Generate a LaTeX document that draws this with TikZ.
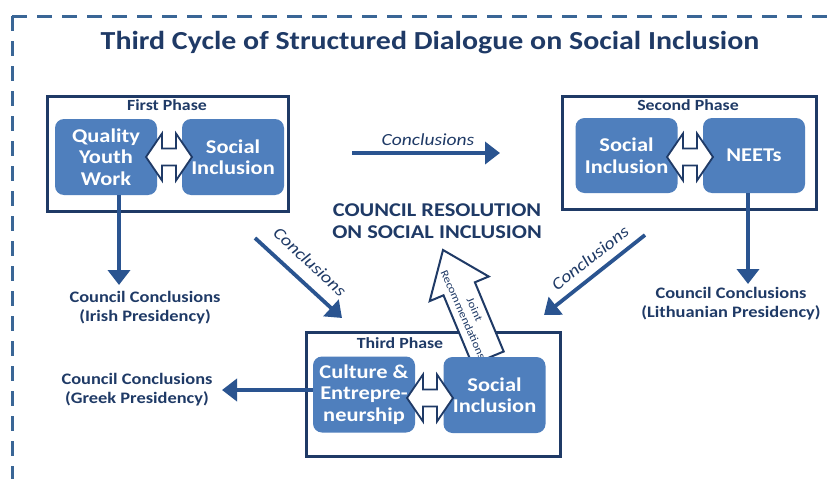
\documentclass[tikz,border=0pt]{standalone}
\usepackage{fontspec}
\setmainfont{Carlito}[FakeStretch=1.15]
\usetikzlibrary{arrows.meta}
\definecolor{navy}{HTML}{1F3A66}
\definecolor{lineblue}{HTML}{2A5490}
\definecolor{boxfill}{HTML}{4F7FBD}
\definecolor{dashblue}{HTML}{3A6696}
\begin{document}
\begin{tikzpicture}[x=1pt,y=-1pt,
 phase/.style={draw=navy, line width=2.5pt, fill=white, inner sep=0pt, anchor=north west},
 topic/.style={fill=boxfill, rounded corners=9pt, text=white, font=\bfseries\fontsize{19.5}{21.5}\selectfont, align=center, minimum width=102pt, minimum height=76pt, inner sep=0pt},
 phaselabel/.style={text=navy, font=\bfseries\fontsize{15.5}{17}\selectfont, inner sep=0pt},
 dbl/.style={draw=navy, line width=1.8pt, fill=white, line join=miter},
 flow/.style={draw=lineblue, line width=3.8pt, -{Triangle[length=15pt,width=22pt]}},
 council/.style={text=navy, font=\bfseries\fontsize{16}{19}\selectfont, align=center, inner sep=0pt},
 concl/.style={text=navy, font=\itshape\fontsize{17}{19}\selectfont, inner sep=0pt},
]
\useasboundingbox (0,0) rectangle (836,479);
\clip (0,0) rectangle (836,479);
% outer dashed frame
\coordinate (fc) at (12,16);
\coordinate (fr) at (870,16);
\coordinate (fb) at (12,500);
\draw[dashblue, line width=3pt, dash pattern=on 15pt off 10pt] (fc) -- (fr);
\draw[dashblue, line width=3pt, dash pattern=on 15pt off 10pt] (fc) -- (fb);
% title
\node[text=navy, font=\bfseries\fontsize{26}{28}\selectfont] (title) at (430,43) {Third Cycle of Structured Dialogue on Social Inclusion};
% phase 1
\node[phase, minimum width=241pt, minimum height=115pt] (p1) at (46,95) {};
\node[phaselabel] (l1) at (167,105) {First Phase};
\node[topic] (qyw) at (106,157) {Quality\\Youth\\Work};
\node[topic] (si1) at (233,157) {Social\\Inclusion};
\coordinate (d1) at (169,157);
\draw[dbl, shift={(d1)}] (-23,0) -- (-7,-23.5) -- (-7,-8.5) -- (7,-8.5) -- (7,-23.5) -- (23,0) -- (7,23.5) -- (7,8.5) -- (-7,8.5) -- (-7,23.5) -- cycle;
% phase 2
\node[phase, minimum width=254pt, minimum height=113pt] (p2) at (561,95) {};
\node[phaselabel] (l2) at (688,105) {Second Phase};
\node[topic, minimum height=75pt] (si2) at (626.5,155.5) {Social\\Inclusion};
\node[topic, minimum height=75pt] (neet) at (754,155.5) {NEETs};
\coordinate (d2) at (690,157);
\draw[dbl, shift={(d2)}] (-23,0) -- (-7,-23.5) -- (-7,-8.5) -- (7,-8.5) -- (7,-23.5) -- (23,0) -- (7,23.5) -- (7,8.5) -- (-7,8.5) -- (-7,23.5) -- cycle;
% phase 3
\node[phase, minimum width=254pt, minimum height=124pt] (p3) at (305,331) {};
\node[phaselabel] (l3) at (400,343) {Third Phase};
% block arrow joint recommendations
\coordinate (ja1) at (472.3,364.5);
\coordinate (ja2) at (503.7,351.5);
\coordinate (ja3) at (474.9,282.3);
\coordinate (ja4) at (488.7,276.5);
\coordinate (jtip) at (443,250);
\coordinate (ja6) at (429.7,301.1);
\coordinate (ja7) at (443.5,295.3);
\draw[navy, line width=2pt, fill=white, line join=miter] (ja1) -- (ja2) -- (ja3) -- (ja4) -- (jtip) -- (ja6) -- (ja7) -- cycle;
\node[text=navy, font=\fontsize{11}{12.5}\selectfont, align=center, rotate=-66, inner sep=0pt] (joint) at (469,312) {Joint\\Recommendations};
\node[topic] (cult) at (364,394.5) {Culture \&\\Entrepre-\\neurship};
\node[topic] (si3) at (494.5,395) {Social\\Inclusion};
\coordinate (d3) at (430,398);
\draw[dbl, shift={(d3)}] (-23,0) -- (-7,-23.5) -- (-7,-8.5) -- (7,-8.5) -- (7,-23.5) -- (23,0) -- (7,23.5) -- (7,8.5) -- (-7,8.5) -- (-7,23.5) -- cycle;
% resolution
\node[text=navy, font=\bfseries\fontsize{19.5}{21.5}\selectfont, align=center, inner sep=0pt] (res) at (437,221) {COUNCIL RESOLUTION\\ON SOCIAL INCLUSION};
% council conclusions
\node[council] (irish) at (145,307.5) {Council Conclusions\\(Irish Presidency)};
\node[council] (lith) at (731,303.5) {Council Conclusions\\(Lithuanian Presidency)};
\node[council] (greek) at (137,390) {Council Conclusions\\(Greek Presidency)};
% arrows
\coordinate (irtip) at (119,285);
\coordinate (lttip) at (748,284);
\coordinate (grtip) at (222,390);
\draw[flow] ([xshift=13pt]qyw.south) -- (irtip);
\draw[flow] ([xshift=-6pt]neet.south) -- (lttip);
\draw[flow] ([yshift=4.5pt]cult.west) -- (grtip);
\coordinate (h1) at (352,153);
\coordinate (h2) at (500,153);
\draw[flow] (h1) -- (h2);
\node[concl] (ch) at (428,140) {Conclusions};
\coordinate (dl1) at (255,238);
\coordinate (dl2) at (342,318);
\draw[flow] (dl1) -- (dl2);
\node[concl, rotate=-43] (cl) at (310,262) {Conclusions};
\coordinate (dr1) at (645,235);
\coordinate (dr2) at (544,315);
\draw[flow] (dr1) -- (dr2);
\node[concl, rotate=38] (cr) at (590,258) {Conclusions};
\end{tikzpicture}
\end{document}
